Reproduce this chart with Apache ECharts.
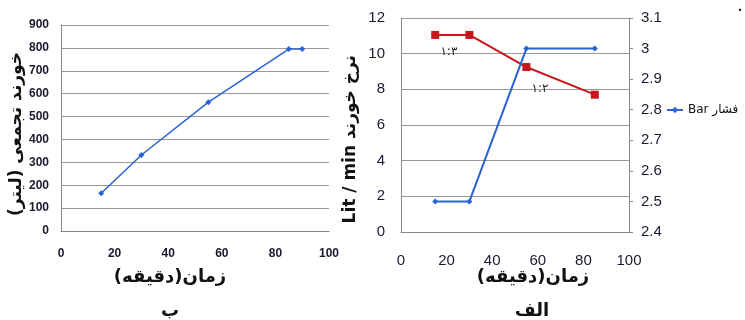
<!DOCTYPE html>
<html>
<head>
<meta charset="utf-8">
<script src="https://cdn.jsdelivr.net/npm/echarts@6/dist/echarts.min.js"></script>
<style>
  html, body { margin: 0; padding: 0; background: #fff; }
  #main { width: 745px; height: 320px; }
</style>
</head>
<body>
<div id="main"></div>
<script>
// نمودار ب : خورند تجمعی
var cumTime  = [15, 30, 55, 85, 90];
var cumValue = [165, 332, 563, 795, 795];

// نمودار الف : نرخ خورند و فشار
var rateTime  = [15, 30, 55, 85];
var rateValue = [11.05, 11.05, 9.25, 7.7];     // Lit/min (محور چپ)
var pressure  = [2.5, 2.5, 3.0, 3.0];          // Bar (محور راست)
var ratioLabels = [
  { text: '۱:۳', x: 21, y: 10.1 },
  { text: '۱:۲', x: 61, y: 8.0 }
];

var numFont = 'Liberation Sans, Arial, sans-serif';
var faFont = 'DejaVu Sans, Noto Sans, sans-serif';

function pairs(xs, ys) {
  var out = [];
  for (var i = 0; i < xs.length; i++) out.push([xs[i], ys[i]]);
  return out;
}

var chart = echarts.init(document.getElementById('main'));

var option = {
  animation: false,
  backgroundColor: '#fff',
  grid: [
    { left: 61, top: 25, width: 268, height: 206 },
    { left: 401, top: 18, width: 228, height: 214 }
  ],
  legend: {
    data: ['Bar فشار'],
    left: 666, top: 104, padding: 0,
    itemWidth: 16, itemHeight: 8, itemGap: 0,
    textStyle: { fontFamily: faFont, fontSize: 12, color: '#111' }
  },
  xAxis: [
    {
      gridIndex: 0, type: 'value', min: 0, max: 100, interval: 20,
      axisLine: { lineStyle: { color: '#888' } },
      axisTick: { show: false },
      splitLine: { show: false },
      axisLabel: { margin: 17, fontFamily: numFont, fontWeight: 'bold', fontSize: 12, color: '#1a1a2e' }
    },
    {
      gridIndex: 1, type: 'value', min: 0, max: 100, interval: 20,
      axisLine: { lineStyle: { color: '#888' } },
      axisTick: { show: false },
      splitLine: { show: false },
      axisLabel: { margin: 21, fontFamily: numFont, fontSize: 15, color: '#1a1a2e' }
    }
  ],
  yAxis: [
    {
      gridIndex: 0, type: 'value', min: 0, max: 900, interval: 100,
      axisLine: { show: true, lineStyle: { color: '#888' } },
      axisTick: { show: false },
      splitLine: { lineStyle: { color: '#999' } },
      axisLabel: { margin: 12, fontFamily: numFont, fontWeight: 'bold', fontSize: 12, color: '#1a1a2e' }
    },
    {
      gridIndex: 1, type: 'value', min: 0, max: 12, interval: 2,
      axisLine: { show: true, lineStyle: { color: '#888' } },
      axisTick: { show: false },
      splitLine: { lineStyle: { color: '#999' } },
      axisLabel: { margin: 16, fontFamily: numFont, fontSize: 15, color: '#1a1a2e' }
    },
    {
      gridIndex: 1, type: 'value', position: 'right', min: 2.4, max: 3.1, interval: 0.1,
      axisLine: { show: true, lineStyle: { color: '#888' } },
      axisTick: { show: true, length: 4, lineStyle: { color: '#888' } },
      splitLine: { show: false },
      axisLabel: {
        margin: 12, fontFamily: numFont, fontSize: 15, color: '#1a1a2e',
        formatter: function (v) { return String(+v.toFixed(1)); }
      }
    }
  ],
  series: [
    {
      name: 'cum', type: 'line', xAxisIndex: 0, yAxisIndex: 0,
      data: pairs(cumTime, cumValue),
      symbol: 'diamond', symbolSize: 6,
      lineStyle: { color: '#2a62d4', width: 1.5 },
      itemStyle: { color: '#2a62d4' }
    },
    {
      name: 'rate', type: 'line', xAxisIndex: 1, yAxisIndex: 1,
      data: pairs(rateTime, rateValue),
      symbol: 'rect', symbolSize: 8,
      lineStyle: { color: '#c8161d', width: 2 },
      itemStyle: { color: '#c8161d' },
      markPoint: {
        symbol: 'circle', symbolSize: 0,
        label: { show: true, position: 'inside', fontFamily: faFont, fontSize: 12, color: '#222',
                 formatter: function (p) { return p.name; } },
        data: ratioLabels.map(function (r) { return { name: r.text, coord: [r.x, r.y] }; })
      }
    },
    {
      name: 'Bar فشار', type: 'line', xAxisIndex: 1, yAxisIndex: 2,
      data: pairs(rateTime, pressure),
      symbol: 'diamond', symbolSize: 6,
      lineStyle: { color: '#2a62d4', width: 2 },
      itemStyle: { color: '#2a62d4' }
    }
  ],
  graphic: [
    { type: 'text', left: 8, top: 52, rotation: Math.PI / 2,
      style: { text: 'خورند تجمعی (لیتر)', font: 'bold 17px ' + faFont, fill: '#111' } },
    { type: 'text', left: 342, top: 55, rotation: Math.PI / 2,
      style: { text: 'Lit / min نرخ خورند', font: 'bold 17px ' + faFont, fill: '#111' } },
    { type: 'text', x: 170, y: 277, style: { text: 'زمان(دقیقه)', font: 'bold 18px ' + faFont, fill: '#111', align: 'center', verticalAlign: 'middle' } },
    { type: 'text', x: 170, y: 311, style: { text: 'ب', font: 'bold 18px ' + faFont, fill: '#111', align: 'center', verticalAlign: 'middle' } },
    { type: 'text', x: 533, y: 277, style: { text: 'زمان(دقیقه)', font: 'bold 18px ' + faFont, fill: '#111', align: 'center', verticalAlign: 'middle' } },
    { type: 'text', x: 532, y: 311, style: { text: 'الف', font: 'bold 18px ' + faFont, fill: '#111', align: 'center', verticalAlign: 'middle' } },
    { type: 'text', x: 738, y: 0, style: { text: '.', font: 'bold 14px ' + numFont, fill: '#111' } }
  ]
};

chart.setOption(option);
</script>
</body>
</html>
